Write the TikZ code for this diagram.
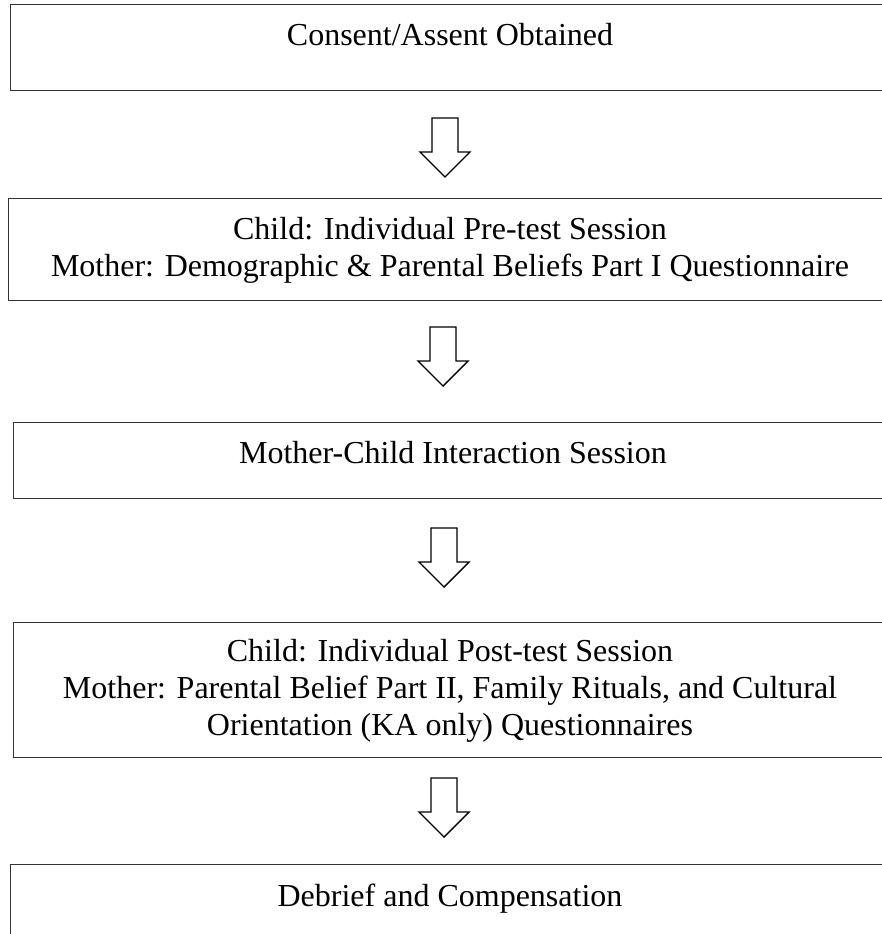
\documentclass[tikz,border=0pt]{standalone}
\usepackage{fontspec}
\setmainfont{Liberation Serif}
\usepackage{tikz}

\tikzset{
  stage/.style={draw=black!80, line width=1.4pt, anchor=north west, inner sep=0pt, minimum width=880pt},
  stagetext/.style={font=\fontsize{32}{37}\selectfont, align=center, inner sep=0pt, anchor=base},
  blockarrow/.style={draw=black, line width=1.4pt, line join=miter, fill=white}
}

\begin{document}
\begin{tikzpicture}[x=1pt, y=-1pt]
  \useasboundingbox (0,0) rectangle (882,934);

  % Boxes
  \node[stage, minimum height=86pt] (consent) at (10,4) {};
  \node[stage, minimum height=102pt, minimum width=882pt] (pretest) at (8,198) {};
  \node[stage, minimum height=76pt, minimum width=877pt] (interact) at (13,422) {};
  \node[stage, minimum height=135pt, minimum width=877pt] (posttest) at (13,622) {};
  \node[stage, minimum height=100pt] (debrief) at (10,864) {};

  % Texts (base = last line)
  \node[stagetext] (consentText) at (450,46) {Consent/Assent Obtained};
  \node[stagetext] (pretestText) at (450,276) {Child: Individual Pre-test Session\\
    Mother: Demographic \& Parental Beliefs Part I Questionnaire};
  \node[stagetext] (interactText) at (453,463) {Mother-Child Interaction Session};
  \node[stagetext] (posttestText) at (450,735) {Child: Individual Post-test Session\\
    Mother: Parental Belief Part II, Family Rituals, and Cultural\\
    Orientation (KA only) Questionnaires};
  \node[stagetext] (debriefText) at (450,906) {Debrief and Compensation};

  % Hollow arrows between boxes
  \foreach \ax/\ay in {445/118, 443/327, 444/528, 444/778} {
    \draw[blockarrow] (\ax-13,\ay) -- (\ax+13,\ay) -- (\ax+13,\ay+34) -- (\ax+25,\ay+34)
      -- (\ax,\ay+59) -- (\ax-25,\ay+34) -- (\ax-13,\ay+34) -- cycle;
  }
\end{tikzpicture}
\end{document}
